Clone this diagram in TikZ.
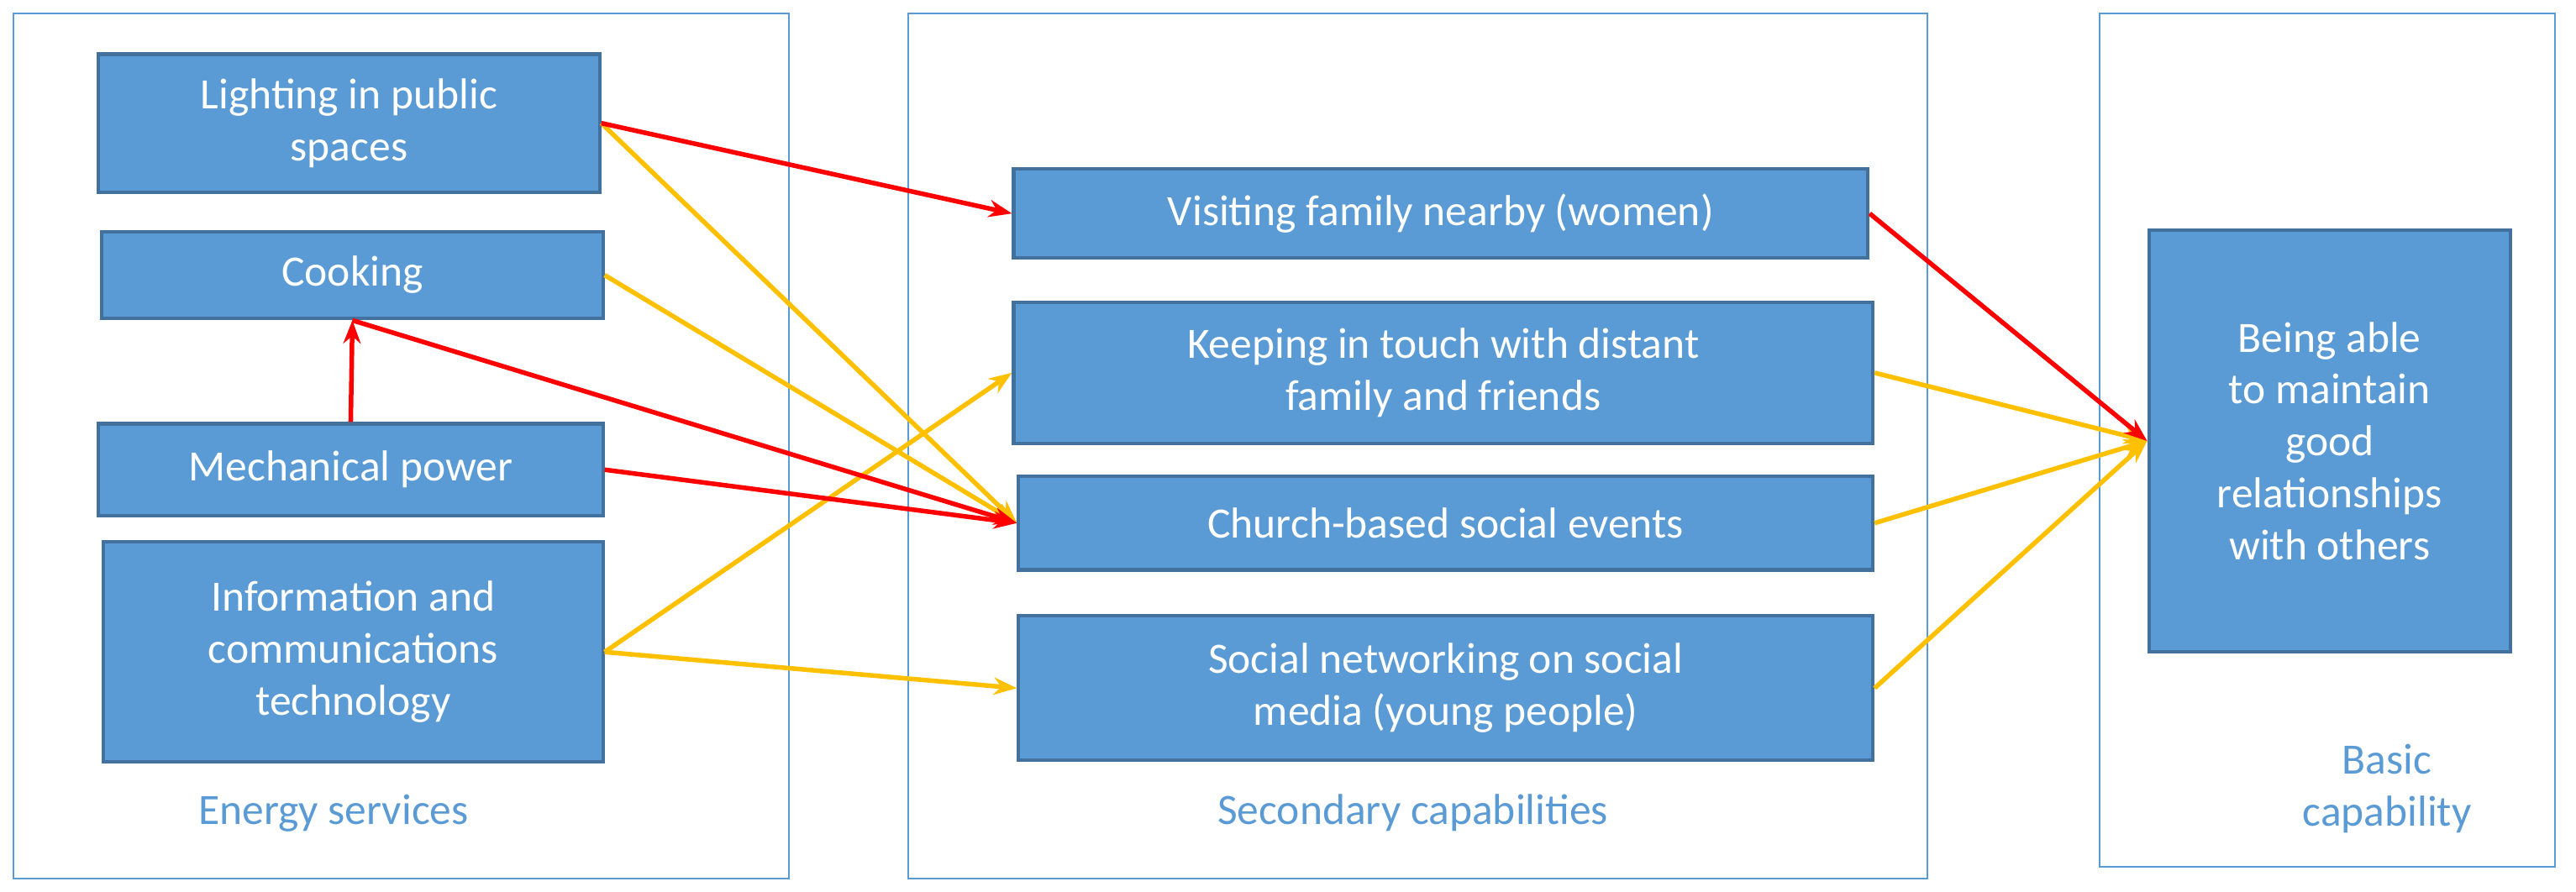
\documentclass[tikz,border=0pt]{standalone}
\usepackage{fontspec}
\setmainfont{Carlito}
\usetikzlibrary{arrows.meta}
\definecolor{fillb}{HTML}{5B9BD5}
\definecolor{edgeb}{HTML}{41719C}
\definecolor{yel}{HTML}{FFC000}
\begin{document}
\begin{tikzpicture}[x=0.02cm,y=-0.02cm,
 box/.style={draw=edgeb,line width=1.2pt,fill=fillb,text=white,font=\fontsize{15}{18}\selectfont,align=center,inner sep=0pt},
 frame/.style={draw=fillb,line width=0.6pt},
 lab/.style={text=fillb,font=\fontsize{15}{18}\selectfont,align=center},
 red/.style={draw=red,line width=1.6pt,-{Stealth[length=8pt,width=6pt]}},
 yl/.style={draw=yel,line width=1.6pt,-{Stealth[length=8pt,width=6pt]}}]
\useasboundingbox (0,0) rectangle (1568,543);
\draw[frame] (8,8) rectangle (480,535);
\draw[frame] (553,8) rectangle (1173,535);
\draw[frame] (1278,8) rectangle (1555,528);
\node[box,minimum width=305*0.02cm,minimum height=84*0.02cm] (light) at (212.5,75) {Lighting in public\\spaces};
\node[box,minimum width=305*0.02cm,minimum height=53*0.02cm] (cook) at (214.5,167.5) {Cooking};
\node[box,minimum width=307*0.02cm,minimum height=56*0.02cm] (mech) at (213.5,286) {Mechanical power};
\node[box,minimum width=304*0.02cm,minimum height=134*0.02cm] (ict) at (215,397) {Information and\\communications\\technology};
\node[box,minimum width=520*0.02cm,minimum height=54*0.02cm] (visit) at (877,130) {Visiting family nearby (women)};
\node[box,minimum width=523*0.02cm,minimum height=86*0.02cm] (keep) at (878.5,227) {Keeping in touch with distant\\family and friends};
\node[box,minimum width=520*0.02cm,minimum height=57*0.02cm] (church) at (880,318.5) {Church-based social events};
\node[box,minimum width=520*0.02cm,minimum height=88*0.02cm] (social) at (880,419) {Social networking on social\\media (young people)};
\node[box,minimum width=220*0.02cm,minimum height=257*0.02cm] (basic) at (1418,268.5) {Being able\\to maintain\\good\\relationships\\with others};
\node[lab] (l1) at (203,495) {Energy services};
\node[lab] (l2) at (860,495) {Secondary capabilities};
\node[lab] (l3) at (1453,480) {Basic\\capability};
\draw[yl] (light.east) -- (church.west);
\draw[yl] (cook.east) -- (church.west);
\draw[yl] (ict.east) -- (keep.west);
\draw[yl] (ict.east) -- (social.west);
\draw[yl] (keep.east) -- (basic.west);
\draw[yl] (church.east) -- (basic.west);
\draw[yl] (social.east) -- (basic.west);
\draw[red] (light.east) -- (visit.west);
\draw[red] (mech.north) -- (cook.south);
\draw[red] (cook.south) -- (church.west);
\draw[red] (mech.east) -- (church.west);
\draw[red] (visit.east) -- (basic.west);
\end{tikzpicture}
\end{document}
